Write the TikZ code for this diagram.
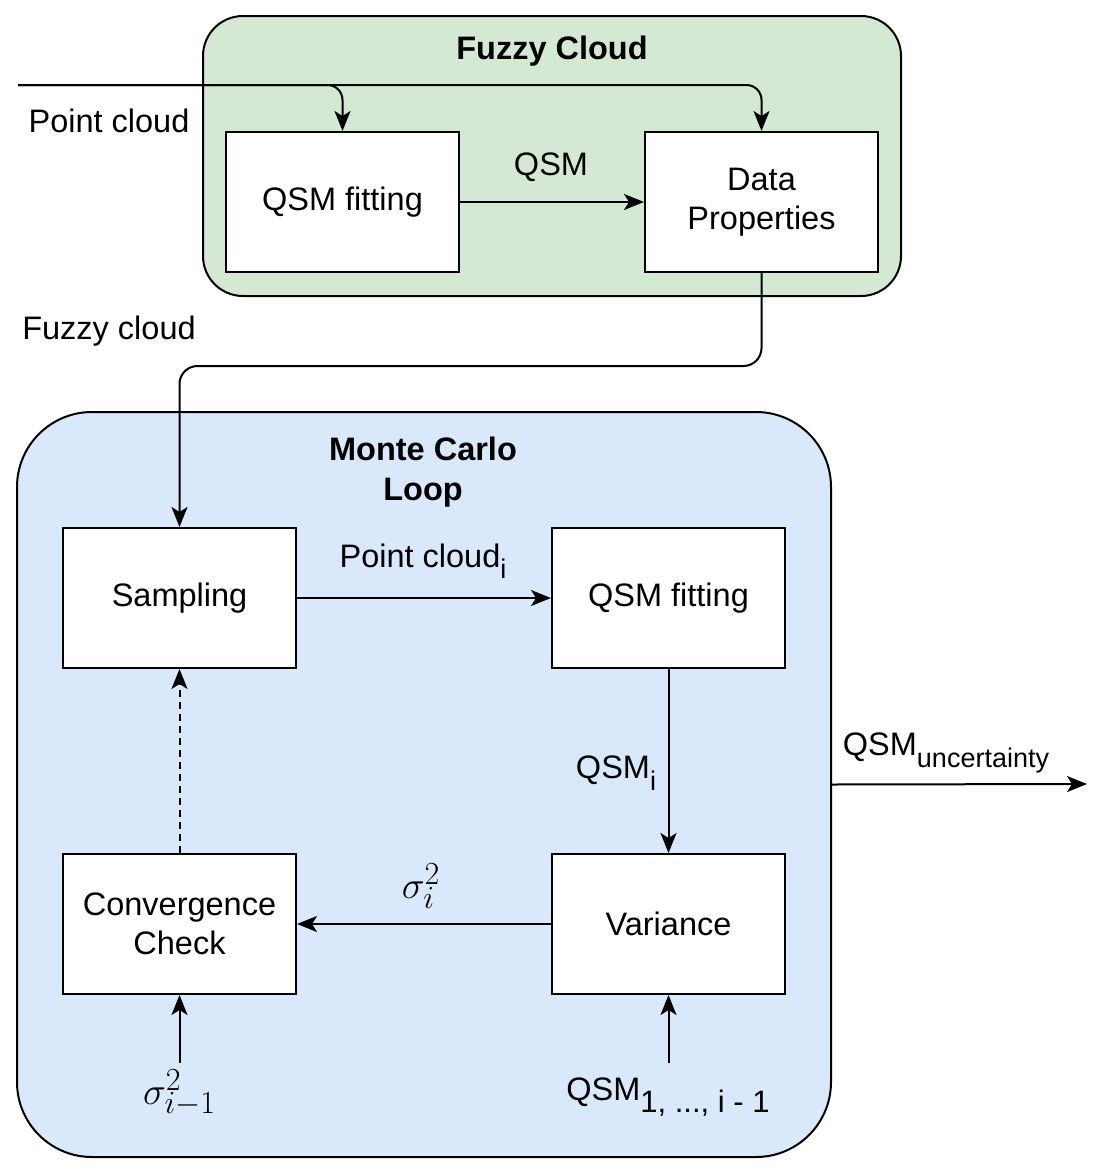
\documentclass[tikz,border=0pt]{standalone}
\usepackage{fontspec}
\setmainfont{Liberation Sans}
\usetikzlibrary{arrows.meta}
\definecolor{fcgreen}{HTML}{D5E8D4}
\definecolor{mcblue}{HTML}{DAE8FC}
\newcommand\lsub[1]{\raisebox{-0.35em}{\fontsize{27}{27}\selectfont #1}}
\newcommand\bigmath[1]{\scalebox{1.55}{$#1$}}
\begin{document}
\begin{tikzpicture}[x=1pt,y=-1pt, font=\fontsize{32.5}{39}\selectfont, line width=2pt,
 box/.style={draw, fill=white, minimum width=233pt, minimum height=140pt, align=center, inner sep=0pt},
 arr/.style={-{Stealth[length=20pt,width=16pt,inset=5pt]}},
 lbl/.style={inner sep=0pt, align=center}]
\useasboundingbox (0,0) rectangle (1102,1173);
% containers
\node (fc) [draw, fill=fcgreen, rounded corners=40pt, minimum width=698pt, minimum height=280pt, inner sep=0pt] at (552,156) {};
\node (fctitle) [lbl, font=\fontsize{32.5}{39}\selectfont\bfseries] at (552,51) {Fuzzy Cloud};
\node (mc) [draw, fill=mcblue, rounded corners=75pt, minimum width=814pt, minimum height=745pt, inner sep=0pt] at (424,784.5) {};
\node (mctitle) [lbl, font=\fontsize{32.5}{40}\selectfont\bfseries] at (423,472) {Monte Carlo\\Loop};
% boxes
\node (qf) [box] at (342.5,202) {QSM fitting};
\node (dp) [box] at (761.5,202) {Data\\Properties};
\node (samp) [box] at (179.5,598) {Sampling};
\node (qf2) [box] at (668.5,598) {QSM fitting};
\node (cc) [box] at (179.5,924) {Convergence\\Check};
\node (var) [box] at (668.5,924) {Variance};
% input
\coordinate (in) at (18,85);
\node (pc) [lbl] at (109,121) {Point cloud};
\draw[arr, rounded corners=15pt] (in) -| (qf.north);
\draw[arr, rounded corners=15pt] (in) -| (dp.north);
\draw[arr] (qf.east) -- (dp.west);
\node (qsmlbl) [lbl] at (551,167) {QSM};
% fuzzy cloud connector
\node (fcl) [lbl] at (109,331) {Fuzzy cloud};
\draw[arr, rounded corners=18pt] (dp.south) -- ++(0,93) -| (samp.north);
% loop
\draw[arr] (samp.east) -- (qf2.west);
\node (pcil) [lbl] at (423,561) {Point cloud\lsub{i}};
\draw[arr] (qf2.south) -- (var.north);
\node (qsmil) [lbl] at (616,773) {QSM\lsub{i}};
\draw[arr] (var.west) -- (cc.east);
\node (sil) [lbl] at (421,886) {\bigmath{\sigma_i^2}};
\draw[arr, dashed, dash pattern=on 7pt off 5pt] (cc.north) -- (samp.south);
% bottom inputs
\coordinate (sin) at (179.5,1063);
\node (sil1) [lbl] at (179.5,1093) {\bigmath{\sigma_{i-1}^2}};
\draw[arr] (sin) -- (cc.south);
\coordinate (qin) at (668.5,1063);
\node (qall) [lbl] at (668,1097) {QSM\lsub{\fontsize{31}{31}\selectfont 1, ..., i - 1}};
\draw[arr] (qin) -- (var.south);
% output
\coordinate (out) at (1087,784);
\draw[arr] (mc.east) -- (out);
\node (qunc) [lbl] at (946,753) {QSM\lsub{uncertainty}};
\end{tikzpicture}
\end{document}
